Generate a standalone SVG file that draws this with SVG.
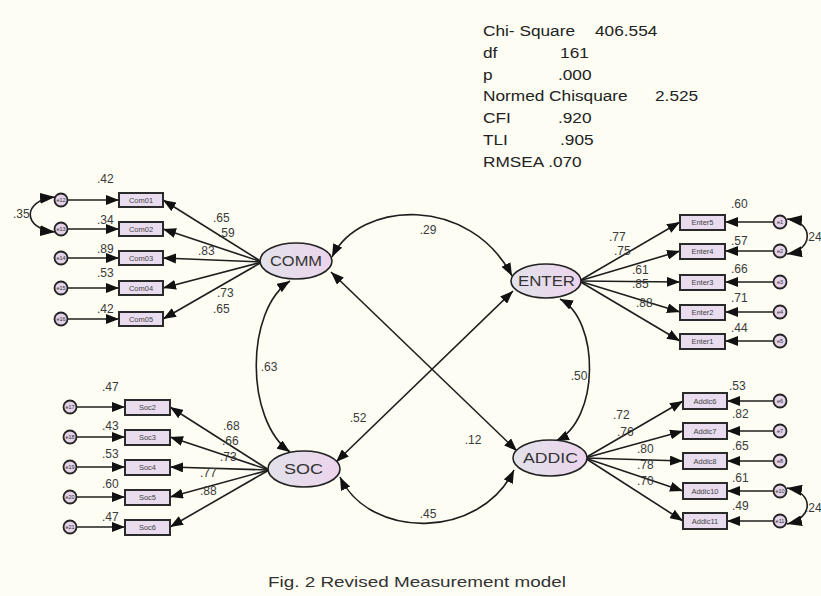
<svg xmlns="http://www.w3.org/2000/svg" width="821" height="596" viewBox="0 0 821 596">
<style>
.ln{stroke:#1e1e1e;stroke-width:1.6;fill:none;marker-end:url(#ah)}
.cv{stroke:#1e1e1e;stroke-width:1.6;fill:none;marker-start:url(#ah);marker-end:url(#ah)}
.ecv{stroke:#1e1e1e;stroke-width:1.6;fill:none;marker-start:url(#ahb);marker-end:url(#ahb)}
.lat{fill:url(#lg);stroke:#222;stroke-width:1.6}
.box{fill:#e9dcef;stroke:#2a2a2a;stroke-width:2}
.err{fill:#e3d2e8;stroke:#222;stroke-width:1.8}
.num{font-family:"Liberation Sans",Arial,sans-serif;font-size:12px;fill:#3a3a3a}
.lt{font-family:"Liberation Sans",Arial,sans-serif;font-size:14px;fill:#333}
.it{font-family:"Liberation Sans",Arial,sans-serif;font-size:7.5px;fill:#444;text-anchor:middle}
.et{font-family:"Liberation Sans",Arial,sans-serif;font-size:5.5px;fill:#333;text-anchor:middle}
.st{font-family:"Liberation Sans",Arial,sans-serif;font-size:15px;fill:#222}
</style>
<defs>
<marker id="ah" markerUnits="userSpaceOnUse" markerWidth="13" markerHeight="10" refX="13" refY="5" orient="auto-start-reverse"><path d="M0,0 L13,5 L0,10 z" fill="#111"/></marker>
<marker id="ahb" markerUnits="userSpaceOnUse" markerWidth="15" markerHeight="11" refX="15" refY="5.5" orient="auto-start-reverse"><path d="M0,0 L15,5.5 L0,11 z" fill="#111"/></marker>
<linearGradient id="lg" x1="0" y1="0" x2="1" y2="0"><stop offset="0" stop-color="#e2e2ea"/><stop offset="1" stop-color="#ecd4ec"/></linearGradient>
</defs>
<rect width="821" height="596" fill="#fdfdf3"/>

<g id="fit" transform="translate(483 0) scale(1.15 1)">
<text class="st" x="0" y="36">Chi- Square</text><text class="st" x="97.4" y="36">406.554</text>
<text class="st" x="0" y="58">df</text><text class="st" x="67" y="58">161</text>
<text class="st" x="0" y="80">p</text><text class="st" x="65.2" y="80">.000</text>
<text class="st" x="0" y="101">Normed Chisquare</text><text class="st" x="149.6" y="101">2.525</text>
<text class="st" x="0" y="123">CFI</text><text class="st" x="65.2" y="123">.920</text>
<text class="st" x="0" y="145">TLI</text><text class="st" x="67" y="145">.905</text>
<text class="st" x="0" y="167">RMSEA .070</text>
</g>

<g id="connectors">
<path class="ln" d="M262,262 L163,200"/>
<path class="ln" d="M262,262 L163,229"/>
<path class="ln" d="M262,262 L163,258"/>
<path class="ln" d="M262,262 L163,288"/>
<path class="ln" d="M262,262 L163,319"/>
<path class="ln" d="M579,281 L680,222"/>
<path class="ln" d="M579,281 L680,251"/>
<path class="ln" d="M579,281 L680,282"/>
<path class="ln" d="M579,281 L680,312"/>
<path class="ln" d="M579,281 L680,341"/>
<path class="ln" d="M269,470 L170,407"/>
<path class="ln" d="M269,470 L170,437"/>
<path class="ln" d="M269,470 L170,467"/>
<path class="ln" d="M269,470 L170,497"/>
<path class="ln" d="M269,470 L170,527"/>
<path class="ln" d="M585,458 L683,401"/>
<path class="ln" d="M585,458 L683,431"/>
<path class="ln" d="M585,458 L683,461"/>
<path class="ln" d="M585,458 L683,491"/>
<path class="ln" d="M585,458 L683,521"/>
<path class="ln" d="M68,200 L119,200"/>
<path class="ln" d="M68,229 L119,229"/>
<path class="ln" d="M68,258 L119,258"/>
<path class="ln" d="M68,288 L119,288"/>
<path class="ln" d="M68,319 L119,319"/>
<path class="ln" d="M773,222 L725,222"/>
<path class="ln" d="M773,251 L725,251"/>
<path class="ln" d="M773,282 L725,282"/>
<path class="ln" d="M773,312 L725,312"/>
<path class="ln" d="M773,341 L725,341"/>
<path class="ln" d="M77,407 L125,407"/>
<path class="ln" d="M77,437 L125,437"/>
<path class="ln" d="M77,467 L125,467"/>
<path class="ln" d="M77,497 L125,497"/>
<path class="ln" d="M77,527 L125,527"/>
<path class="ln" d="M773,401 L727,401"/>
<path class="ln" d="M773,431 L727,431"/>
<path class="ln" d="M773,461 L727,461"/>
<path class="ln" d="M773,491 L727,491"/>
<path class="ln" d="M773,521 L727,521"/>
<path class="ecv" d="M55,197 C22,200 22,229 55,232"/>
<path class="ecv" d="M787,219 C814,222 814,250 787,254"/>
<path class="ecv" d="M787,488 C814,492 814,518 787,524"/>
<path class="cv" d="M332,257 C360,200 470,195 512,276"/>
<path class="cv" d="M290,281 C245,310 245,420 290,452"/>
<path class="cv" d="M560,299 C600,320 600,420 556,441"/>
<path class="cv" d="M340,477 C370,540 480,540 514,470"/>
<path class="cv" d="M331,272 L517,451"/>
<path class="cv" d="M336,462 L513,291"/>
</g>

<g id="labels">
<text class="num" x="428" y="234" text-anchor="middle">.29</text>
<text class="num" x="269" y="371" text-anchor="middle">.63</text>
<text class="num" x="579" y="380" text-anchor="middle">.50</text>
<text class="num" x="428" y="518" text-anchor="middle">.45</text>
<text class="num" x="473" y="444" text-anchor="middle">.12</text>
<text class="num" x="358" y="422" text-anchor="middle">.52</text>
<text class="num" x="13" y="218">.35</text>
<text class="num" x="805" y="241">.24</text>
<text class="num" x="805" y="512">.24</text>
<text class="num" x="213" y="222">.65</text>
<text class="num" x="218" y="237">.59</text>
<text class="num" x="198" y="255">.83</text>
<text class="num" x="217" y="297">.73</text>
<text class="num" x="213" y="313">.65</text>
<text class="num" x="97" y="183">.42</text>
<text class="num" x="97" y="224">.34</text>
<text class="num" x="97" y="253">.89</text>
<text class="num" x="97" y="277">.53</text>
<text class="num" x="97" y="313">.42</text>
<text class="num" x="609" y="241">.77</text>
<text class="num" x="614" y="255">.75</text>
<text class="num" x="632" y="274">.61</text>
<text class="num" x="632" y="288">.85</text>
<text class="num" x="636" y="307">.88</text>
<text class="num" x="731" y="208">.60</text>
<text class="num" x="731" y="245">.57</text>
<text class="num" x="731" y="273">.66</text>
<text class="num" x="731" y="302">.71</text>
<text class="num" x="731" y="332">.44</text>
<text class="num" x="223" y="430">.68</text>
<text class="num" x="222" y="445">.66</text>
<text class="num" x="220" y="461">.73</text>
<text class="num" x="200" y="477">.77</text>
<text class="num" x="200" y="495">.88</text>
<text class="num" x="102" y="391">.47</text>
<text class="num" x="102" y="430">.43</text>
<text class="num" x="102" y="458">.53</text>
<text class="num" x="102" y="488">.60</text>
<text class="num" x="102" y="521">.47</text>
<text class="num" x="613" y="419">.72</text>
<text class="num" x="617" y="436">.76</text>
<text class="num" x="637" y="453">.80</text>
<text class="num" x="637" y="469">.78</text>
<text class="num" x="637" y="485">.70</text>
<text class="num" x="729" y="390">.53</text>
<text class="num" x="732" y="418">.82</text>
<text class="num" x="732" y="450">.65</text>
<text class="num" x="732" y="482">.61</text>
<text class="num" x="732" y="510">.49</text>
</g>

<g id="COMM"><ellipse class="lat" cx="296" cy="261" rx="36" ry="18"/><text class="lt" x="270" y="266" textLength="52" lengthAdjust="spacingAndGlyphs">COMM</text></g>
<g id="ENTER"><ellipse class="lat" cx="546" cy="281" rx="35" ry="17"/><text class="lt" x="518" y="286" textLength="57" lengthAdjust="spacingAndGlyphs">ENTER</text></g>
<g id="SOC"><ellipse class="lat" cx="304" cy="469" rx="36" ry="18"/><text class="lt" x="284" y="474" textLength="39" lengthAdjust="spacingAndGlyphs">SOC</text></g>
<g id="ADDIC"><ellipse class="lat" cx="550" cy="458" rx="37" ry="18"/><text class="lt" x="523" y="463" textLength="55" lengthAdjust="spacingAndGlyphs">ADDIC</text></g>

<g id="Com01"><rect class="box" x="119" y="193" width="44" height="14"/><text class="it" x="141" y="202.5">Com01</text></g>
<g id="Com02"><rect class="box" x="119" y="222" width="44" height="14"/><text class="it" x="141" y="231.5">Com02</text></g>
<g id="Com03"><rect class="box" x="119" y="251" width="44" height="14"/><text class="it" x="141" y="260.5">Com03</text></g>
<g id="Com04"><rect class="box" x="119" y="281" width="44" height="14"/><text class="it" x="141" y="290.5">Com04</text></g>
<g id="Com05"><rect class="box" x="119" y="312" width="44" height="14"/><text class="it" x="141" y="321.5">Com05</text></g>

<g id="Enter5"><rect class="box" x="680" y="215" width="45" height="15"/><text class="it" x="702.5" y="225">Enter5</text></g>
<g id="Enter4"><rect class="box" x="680" y="244" width="45" height="15"/><text class="it" x="702.5" y="254">Enter4</text></g>
<g id="Enter3"><rect class="box" x="680" y="275" width="45" height="15"/><text class="it" x="702.5" y="285">Enter3</text></g>
<g id="Enter2"><rect class="box" x="680" y="305" width="45" height="15"/><text class="it" x="702.5" y="315">Enter2</text></g>
<g id="Enter1"><rect class="box" x="680" y="334" width="45" height="15"/><text class="it" x="702.5" y="344">Enter1</text></g>

<g id="Soc2"><rect class="box" x="125" y="400" width="45" height="15"/><text class="it" x="147.5" y="410">Soc2</text></g>
<g id="Soc3"><rect class="box" x="125" y="430" width="45" height="15"/><text class="it" x="147.5" y="440">Soc3</text></g>
<g id="Soc4"><rect class="box" x="125" y="460" width="45" height="15"/><text class="it" x="147.5" y="470">Soc4</text></g>
<g id="Soc5"><rect class="box" x="125" y="490" width="45" height="15"/><text class="it" x="147.5" y="500">Soc5</text></g>
<g id="Soc6"><rect class="box" x="125" y="520" width="45" height="15"/><text class="it" x="147.5" y="530">Soc6</text></g>

<g id="Addic6"><rect class="box" x="683" y="393" width="44" height="16"/><text class="it" x="705" y="403.5">Addic6</text></g>
<g id="Addic7"><rect class="box" x="683" y="423" width="44" height="16"/><text class="it" x="705" y="433.5">Addic7</text></g>
<g id="Addic8"><rect class="box" x="683" y="453" width="44" height="16"/><text class="it" x="705" y="463.5">Addic8</text></g>
<g id="Addic10"><rect class="box" x="683" y="483" width="44" height="16"/><text class="it" x="705" y="493.5">Addic10</text></g>
<g id="Addic11"><rect class="box" x="683" y="513" width="44" height="16"/><text class="it" x="705" y="523.5">Addic11</text></g>

<g id="e12"><circle class="err" cx="61" cy="200" r="6.5"/><text class="et" x="61" y="202">e12</text></g>
<g id="e13"><circle class="err" cx="61" cy="229" r="6.5"/><text class="et" x="61" y="231">e13</text></g>
<g id="e14"><circle class="err" cx="61" cy="258" r="6.5"/><text class="et" x="61" y="260">e14</text></g>
<g id="e15"><circle class="err" cx="61" cy="288" r="6.5"/><text class="et" x="61" y="290">e15</text></g>
<g id="e16"><circle class="err" cx="61" cy="319" r="6.5"/><text class="et" x="61" y="321">e16</text></g>

<g id="e1"><circle class="err" cx="780" cy="222" r="6.5"/><text class="et" x="780" y="224">e1</text></g>
<g id="e2"><circle class="err" cx="780" cy="251" r="6.5"/><text class="et" x="780" y="253">e2</text></g>
<g id="e3"><circle class="err" cx="780" cy="282" r="6.5"/><text class="et" x="780" y="284">e3</text></g>
<g id="e4"><circle class="err" cx="780" cy="312" r="6.5"/><text class="et" x="780" y="314">e4</text></g>
<g id="e5"><circle class="err" cx="780" cy="341" r="6.5"/><text class="et" x="780" y="343">e5</text></g>

<g id="e17"><circle class="err" cx="70" cy="407" r="6.5"/><text class="et" x="70" y="409">e17</text></g>
<g id="e18"><circle class="err" cx="70" cy="437" r="6.5"/><text class="et" x="70" y="439">e18</text></g>
<g id="e19"><circle class="err" cx="70" cy="467" r="6.5"/><text class="et" x="70" y="469">e19</text></g>
<g id="e20"><circle class="err" cx="70" cy="497" r="6.5"/><text class="et" x="70" y="499">e20</text></g>
<g id="e21"><circle class="err" cx="70" cy="527" r="6.5"/><text class="et" x="70" y="529">e21</text></g>

<g id="e6"><circle class="err" cx="780" cy="401" r="6.5"/><text class="et" x="780" y="403">e6</text></g>
<g id="e7"><circle class="err" cx="780" cy="431" r="6.5"/><text class="et" x="780" y="433">e7</text></g>
<g id="e8"><circle class="err" cx="780" cy="461" r="6.5"/><text class="et" x="780" y="463">e8</text></g>
<g id="e10"><circle class="err" cx="780" cy="491" r="6.5"/><text class="et" x="780" y="493">e10</text></g>
<g id="e11"><circle class="err" cx="780" cy="521" r="6.5"/><text class="et" x="780" y="523">e11</text></g>

<text x="268" y="587" textLength="298" lengthAdjust="spacingAndGlyphs" font-family="'Liberation Sans',Arial,sans-serif" font-size="15" fill="#333">Fig. 2 Revised Measurement model</text>
</svg>
